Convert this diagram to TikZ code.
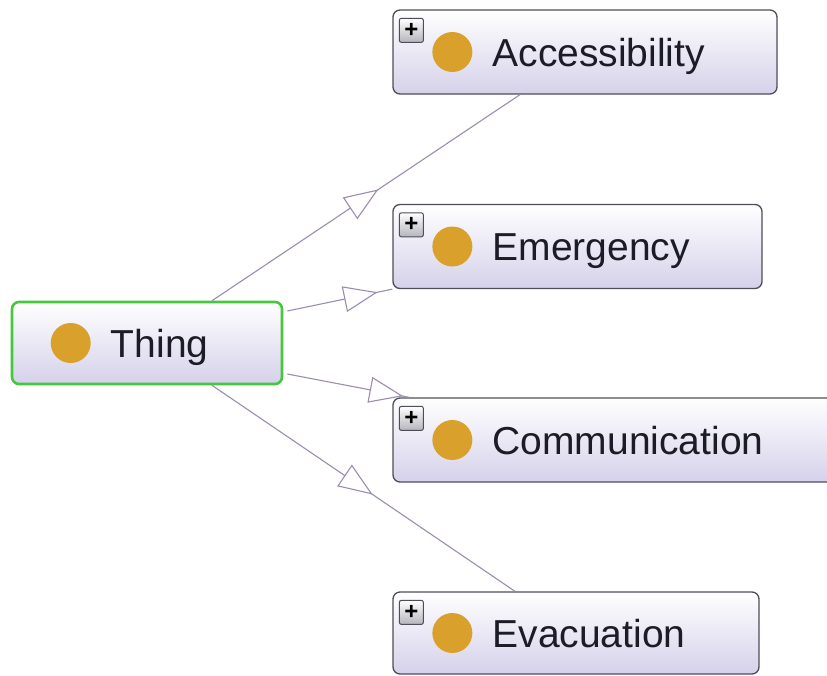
\documentclass[tikz,border=0pt]{standalone}
\usepackage{fontspec}
\setmainfont{Liberation Sans}
\usetikzlibrary{arrows.meta, decorations.markings}

\definecolor{edgecol}{HTML}{9C8DB0}
\definecolor{boxline}{HTML}{4E4E58}
\definecolor{boxlav}{HTML}{D5D1EA}
\definecolor{thinggreen}{HTML}{45C83C}
\definecolor{dotcol}{HTML}{D9A12B}
\definecolor{txtcol}{HTML}{1C1C26}
\definecolor{plusgray}{HTML}{B4B4BC}

\begin{document}
\begin{tikzpicture}[
    x=1pt, y=-1pt,
    font=\fontsize{39}{46}\selectfont,
    cls/.style={rectangle, draw=boxline, line width=1.3pt, rounded corners=7pt, top color=white, bottom color=boxlav, minimum height=84pt, inner sep=0pt},
    root/.style={cls, draw=thinggreen, line width=2.6pt},
    lbl/.style={anchor=base west, text=txtcol, inner sep=0pt},
    dot/.style={circle, fill=dotcol, minimum size=40pt, inner sep=0pt},
    plusbox/.style={rectangle, draw=boxline, line width=1pt, rounded corners=2pt, top color=white, bottom color=plusgray, minimum size=24pt, inner sep=0pt, font=\fontsize{24}{24}\selectfont\bfseries},
    isa/.style={draw=edgecol, line width=1.1pt,
        decoration={markings, mark=at position #1 with {\arrow[edgecol, line width=1.1pt]{Triangle[length=34pt, width=26pt, fill=white]}}},
        postaction={decorate}}
]
\useasboundingbox[fill=white] (0,0) rectangle (827,675);

% Root class
\node[root, minimum width=270pt, minimum height=82pt] (thing) at (147,343) {};
\node[dot] (thing-dot) at ([xshift=60pt]thing.west) {};
\node[lbl] (thing-lbl) at ([shift={(100,14)}]thing.west) {Thing};

% Sub classes
\node[cls, minimum width=384pt] (acc) at (585,52) {};
\node[dot] (acc-dot) at ([xshift=60pt]acc.west) {};
\node[lbl] (acc-lbl) at ([shift={(100,14)}]acc.west) {Accessibility};
\node[plusbox] (acc-plus) at ([shift={(19,21)}]acc.north west) {+};

\node[cls, minimum width=369pt] (emg) at (577.5,246.5) {};
\node[dot] (emg-dot) at ([xshift=60pt]emg.west) {};
\node[lbl] (emg-lbl) at ([shift={(100,14)}]emg.west) {Emergency};
\node[plusbox] (emg-plus) at ([shift={(19,21)}]emg.north west) {+};

\node[cls, minimum width=445pt] (com) at (615.5,440) {};
\node[dot] (com-dot) at ([xshift=60pt]com.west) {};
\node[lbl] (com-lbl) at ([shift={(100,14)}]com.west) {Communication};
\node[plusbox] (com-plus) at ([shift={(19,21)}]com.north west) {+};

\node[cls, minimum width=366pt, minimum height=82pt] (eva) at (576,633) {};
\node[dot] (eva-dot) at ([xshift=60pt]eva.west) {};
\node[lbl] (eva-lbl) at ([shift={(100,14)}]eva.west) {Evacuation};
\node[plusbox] (eva-plus) at ([shift={(19,21)}]eva.north west) {+};

% Subclass edges
\draw[isa=0.54] ([xshift=65pt]thing.north) -- ([xshift=-65pt]acc.south);
\draw[isa=0.86] ([shift={(4,-32)}]thing.east) -- (emg.south west);
\draw[isa=0.95] ([shift={(4,31)}]thing.east) -- ([xshift=17pt]com.north west);
\draw[isa=0.53] ([xshift=65pt]thing.south) -- ([xshift=-61pt]eva.north);

\end{tikzpicture}
\end{document}
